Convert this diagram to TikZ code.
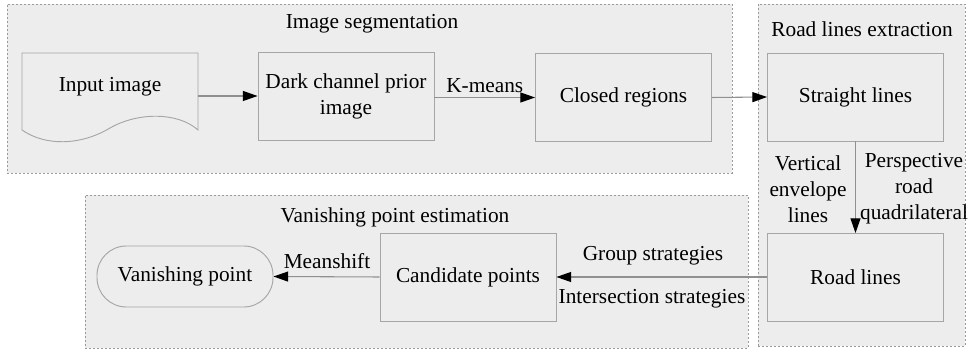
\documentclass[tikz,border=0pt]{standalone}
\usepackage{fontspec}
\setmainfont{Liberation Serif}
\usetikzlibrary{arrows.meta,positioning}
\definecolor{bgfill}{HTML}{EDEDED}
\definecolor{boxline}{HTML}{A6A6A6}
\definecolor{dashline}{HTML}{9A9A9A}
\definecolor{conn}{HTML}{909090}
\begin{document}
\begin{tikzpicture}[x=0.75pt,y=-0.75pt,
  every node/.style={font=\fontsize{16}{19.5}\selectfont, inner sep=0pt},
  container/.style={draw=dashline, fill=bgfill, dash pattern=on 1.5pt off 1.5pt, line width=0.6pt},
  procbox/.style={draw=boxline, fill=bgfill, line width=0.7pt, minimum width=132pt, minimum height=66pt, align=center},
  arr/.style={draw=conn, line width=0.8pt, -{Triangle[length=11pt,width=7.5pt,color=black]}},
  lbl/.style={align=center, font=\fontsize{16}{19.5}\selectfont}
]
\useasboundingbox (0,0) rectangle (971,352);
\fill[white] (0,0) rectangle (971,352);
% containers
\node[container, minimum width=543.75pt, minimum height=126.75pt] (segc) at (369.5,88.5) {};
\node[container, minimum width=155.25pt, minimum height=256.5pt] (roadc) at (861.5,175) {};
\node[container, minimum width=497.25pt, minimum height=114.75pt] (vpc) at (416.5,271.5) {};
% titles
\node (t1) at (372,24) {Image segmentation};
\node (t2) at (862,29) {Road lines extraction};
\node (t3) at (395,217) {Vanishing point estimation};
% input image (document shape)
\draw[boxline, fill=bgfill, line width=0.7pt] (22,53) -- (198,53) -- (198,130)
  .. controls (178,112) and (138,112) .. (110,128)
  .. controls (80,146) and (45,146) .. (22,130) -- cycle;
\node[minimum width=132pt] (input) at (110,87) {Input image};
% boxes
\node[procbox] (dark) at (346,96) {Dark channel prior\\image};
\node[procbox] (closed) at (623.5,97.5) {Closed regions};
\node[procbox] (straight) at (855.5,97) {Straight lines};
\node[procbox] (road) at (855.5,277.5) {Road lines};
\node[procbox] (cand) at (468,277) {Candidate points};
\node[draw=boxline, fill=bgfill, line width=0.7pt, minimum width=132pt, minimum height=45.75pt, rounded corners=22pt] (vp) at (185,276.5) {Vanishing point};
% connectors
\draw[arr] (input.east |- dark.west) -- (dark.west);
\draw[arr] (dark.east |- closed.west) -- node[above=3pt] (km) {K-means} (closed.west);
\draw[arr] (closed.east) -- (straight.west);
\draw[arr] (straight.south) -- (road.north);
\draw[arr] (road.west |- cand.east) -- (cand.east);
\draw[arr] (cand.west) -- (vp.east);
% labels
\node[lbl] (vel) at (808,189) {Vertical\\envelope\\lines};
\node[lbl] (prq) at (914,189) {Perspective\\road\\quadrilateral};
\node (gs) at (653,256) {Group strategies};
\node (is) at (652,299) {Intersection strategies};
\node (ms) at (327,261) {Meanshift};
\end{tikzpicture}
\end{document}
